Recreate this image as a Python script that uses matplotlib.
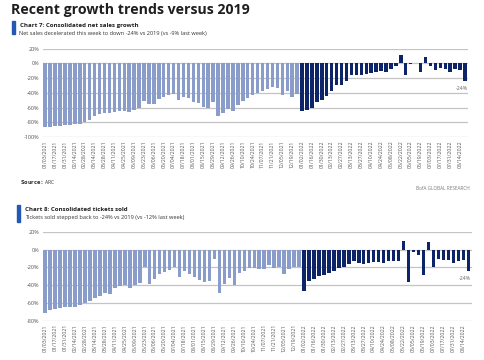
import numpy as np
import matplotlib.pyplot as plt
from matplotlib.patches import Rectangle

## data ################################

# week ending dates shown on the x axis (every second week)
tick_labels = [
    "01/03/2021", "01/17/2021", "01/31/2021", "02/14/2021", "02/28/2021",
    "03/14/2021", "03/28/2021", "04/11/2021", "04/25/2021", "05/09/2021",
    "05/23/2021", "06/06/2021", "06/20/2021", "07/04/2021", "07/18/2021",
    "08/01/2021", "08/15/2021", "08/29/2021", "09/12/2021", "09/26/2021",
    "10/10/2021", "10/24/2021", "11/07/2021", "11/21/2021", "12/05/2021",
    "12/19/2021", "01/02/2022", "01/16/2022", "01/30/2022", "02/13/2022",
    "02/27/2022", "03/13/2022", "03/27/2022", "04/10/2022", "04/24/2022",
    "05/08/2022", "05/22/2022", "06/05/2022", "06/19/2022", "07/03/2022",
    "07/17/2022", "07/31/2022", "08/14/2022",
]

# chart 7: net sales growth vs 2019 (%)
sales_2021 = [-86, -86, -85, -85, -84, -84, -83, -82, -80, -77,
              -72, -69, -68, -68, -66, -65, -65, -66, -63, -60,
              -51, -55, -55, -48, -46, -43, -41, -50, -46, -47,
              -52, -54, -59, -61, -52, -71, -67, -62, -64, -56,
              -51, -47, -43, -40, -38, -35, -32, -33, -43, -38,
              -45, -41]
sales_2022 = [-64, -63, -60, -53, -50, -44, -37, -30, -29, -24,
              -16, -16, -16, -15, -13, -12, -10, -11, -7, -3,
              11, -16, -1, 1, -12, 9, -4, -9, -6, -7,
              -11, -8, -9, -24]

# chart 8: tickets sold vs 2019 (%)
tickets_2021 = [-71, -68, -67, -66, -65, -65, -64, -62, -60, -58,
                -54, -52, -49, -50, -43, -41, -40, -43, -40, -37,
                -19, -39, -33, -27, -25, -23, -19, -31, -24, -27,
                -31, -34, -36, -35, -11, -49, -39, -32, -40, -26,
                -24, -21, -21, -22, -22, -17, -21, -19, -27, -22,
                -20, -20]
tickets_2022 = [-47, -35, -33, -30, -28, -26, -24, -21, -20, -16,
                -13, -15, -16, -15, -14, -14, -15, -13, -13, -13,
                10, -36, -2, -6, -28, 9, -20, -10, -12, -12,
                -15, -13, -12, -24]

## style ###############################

W, H = 485, 360
LIGHT = '#8a9dca'
DARK = '#0d2468'
ACCENT = '#2358b5'
GRID = '#c4c4c4'
plt.rcParams['font.family'] = ['Open Sans', 'DejaVu Sans']

fig = plt.figure(figsize=(W / 100, H / 100), dpi=100)
fig.patch.set_facecolor('white')


def fx(x):
    return x / W


def fy(y):
    return 1 - y / H


def add_axes_px(left, top, right, bottom):
    return fig.add_axes([fx(left), fy(bottom), fx(right - left), (bottom - top) / H])


def bar_panel(ax, v2021, v2022, yticks, xright):
    n1 = len(v2021)
    vals = list(v2021) + list(v2022)
    x = np.arange(len(vals))
    colors = [LIGHT] * n1 + [DARK] * len(v2022)
    ax.bar(x, vals, width=0.7, color=colors, zorder=3)
    ax.set_ylim(yticks[0], yticks[-1])
    ax.set_xlim(-0.45, len(vals) - 1 + xright)
    ax.set_yticks(yticks)
    ax.set_yticklabels([f"{t}%" for t in yticks])
    ax.set_xticks(x[::2][:len(tick_labels)])
    ax.set_xticklabels(tick_labels, rotation=90)
    ax.tick_params(axis='y', length=0, pad=2.5, labelsize=4.0, labelcolor='#555555')
    ax.tick_params(axis='x', length=0, pad=2.5, labelsize=3.7, labelcolor='#555555')
    ax.grid(axis='y', color=GRID, linewidth=0.9, zorder=0)
    for s in ax.spines.values():
        s.set_visible(False)
    last = len(vals) - 1
    ax.annotate(f"{vals[last]}%", xy=(last + 0.5, vals[last]), xytext=(0, -7),
                textcoords='offset pixels', ha='right', va='center',
                fontsize=3.8, color='#666666')


## page header #########################

fig.text(fx(11), fy(3), "Recent growth trends versus 2019", fontsize=10.2,
         fontweight='bold', color='#1e1e1e', va='top', ha='left')

# chart 7 header
fig.patches.append(Rectangle((fx(12.5), fy(34)), fx(2.6), 13 / H,
                             transform=fig.transFigure, color=ACCENT))
fig.text(fx(20), fy(25.5), "Chart 7: Consolidated net sales growth", fontsize=4.4,
         fontweight='bold', color='#1e1e1e', va='center')
fig.text(fx(19), fy(33), "Net sales decelerated this week to down -24% vs 2019 (vs -9% last week)",
         fontsize=4.1, color='#333333', va='center')

ax1 = add_axes_px(43, 48.7, 468, 137)
bar_panel(ax1, sales_2021, sales_2022, [-100, -80, -60, -40, -20, 0, 20], 0.6)

fig.text(fx(20), fy(182.5), r"$\bf{Source:}$ ARC", fontsize=3.6, color='#333333', va='center')
fig.text(fx(470), fy(189), "BofA GLOBAL RESEARCH", fontsize=3.3, color='#777777',
         va='center', ha='right')

# chart 8 header
fig.patches.append(Rectangle((fx(17), fy(222)), fx(2.6), 17 / H,
                             transform=fig.transFigure, color=ACCENT))
fig.text(fx(25), fy(209), "Chart 8: Consolidated tickets sold", fontsize=4.4,
         fontweight='bold', color='#1e1e1e', va='center')
fig.text(fx(25), fy(218), "Tickets sold stepped back to -24% vs 2019 (vs -12% last week)",
         fontsize=4.1, color='#333333', va='center')

ax2 = add_axes_px(43, 232, 472, 320.7)
bar_panel(ax2, tickets_2021, tickets_2022, [-80, -60, -40, -20, 0, 20], 0.75)

fig.savefig('out.png', dpi=100, facecolor='white')
